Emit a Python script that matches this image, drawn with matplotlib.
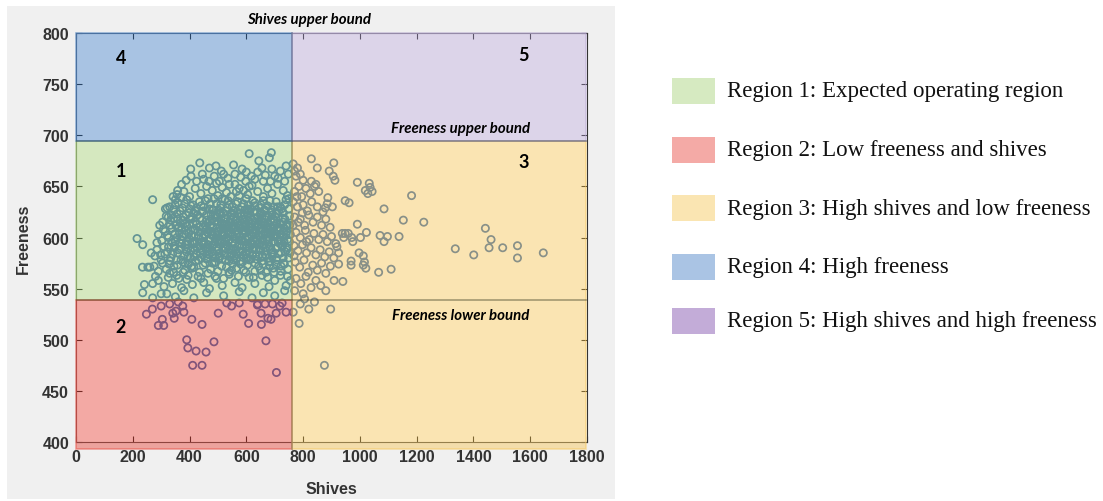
import matplotlib.pyplot as plt
from matplotlib.patches import Rectangle

# operating limits
shives_bound = 760
freeness_low = 539
freeness_high = 694

# dense cloud of operating points (shives, freeness)
core_points = [
    (470, 668), (520, 662), (555, 671), (580, 659), (600, 664), (630, 657), (655, 668), (700, 660),
    (720, 665), (740, 670), (505, 655), (540, 652), (660, 655), (450, 657), (610, 650), (575, 648),
    (380, 645), (400, 640), (420, 648), (440, 643), (460, 650), (480, 646), (500, 641), (515, 649),
    (530, 644), (545, 640), (560, 652), (575, 641), (590, 646), (605, 642), (620, 651), (640, 645),
    (660, 640), (675, 648), (690, 643), (710, 652), (730, 646), (745, 641), (350, 637), (495, 653),
    (565, 645), (685, 655),
    (330, 630), (345, 627), (360, 634), (375, 629), (390, 637), (405, 631), (420, 626), (435, 635),
    (450, 630), (465, 638), (480, 627), (495, 633), (510, 629), (525, 637), (540, 632), (555, 626),
    (570, 635), (585, 630), (600, 638), (615, 628), (630, 634), (645, 629), (660, 636), (675, 631),
    (690, 627), (705, 635), (720, 630), (740, 637), (750, 628), (445, 625), (515, 638), (595, 627),
    (665, 626), (728, 625),
    (305, 615), (318, 621), (332, 612), (344, 619), (356, 623), (368, 614), (379, 620), (391, 611),
    (402, 618), (414, 624), (425, 613), (437, 619), (448, 610), (459, 622), (470, 616), (482, 611),
    (493, 620), (504, 624), (515, 614), (527, 618), (538, 611), (549, 622), (560, 616), (571, 612),
    (583, 621), (594, 617), (605, 624), (617, 613), (628, 619), (639, 611), (650, 622), (662, 615),
    (673, 620), (684, 612), (696, 618), (707, 623), (718, 614), (729, 619), (741, 611), (752, 621),
    (362, 610), (420, 616), (476, 623), (532, 622), (588, 611), (644, 616), (700, 611), (498, 613),
    (556, 609), (612, 620),
    (290, 603), (302, 597), (314, 606), (326, 600), (338, 595), (349, 604), (360, 609), (371, 598),
    (382, 603), (393, 596), (404, 607), (415, 601), (426, 596), (437, 605), (448, 600), (459, 608),
    (470, 597), (481, 603), (492, 599), (503, 606), (514, 602), (525, 596), (536, 604), (547, 609),
    (558, 599), (569, 604), (580, 597), (591, 607), (602, 601), (613, 595), (624, 605), (635, 600),
    (646, 608), (657, 597), (668, 603), (679, 598), (690, 606), (701, 601), (712, 596), (723, 604),
    (734, 609), (745, 598), (755, 603), (410, 595), (465, 604), (520, 609), (575, 601), (630, 596),
    (685, 609), (740, 603), (355, 600), (540, 598), (610, 610), (660, 602),
    (285, 588), (298, 583), (310, 591), (322, 586), (334, 580), (346, 592), (358, 585), (369, 589),
    (381, 582), (392, 594), (404, 587), (415, 581), (427, 590), (438, 585), (450, 593), (461, 580),
    (473, 588), (484, 584), (496, 591), (507, 582), (519, 587), (530, 593), (542, 581), (553, 589),
    (565, 584), (576, 592), (588, 586), (599, 580), (611, 590), (622, 583), (634, 588), (645, 594),
    (657, 582), (668, 587), (680, 591), (691, 581), (703, 589), (714, 584), (726, 592), (737, 586),
    (749, 580), (440, 580), (500, 594), (560, 594), (620, 593), (680, 580), (372, 594), (590, 583),
    (275, 572), (290, 567), (305, 575), (318, 569), (331, 577), (344, 566), (357, 573), (370, 578),
    (383, 568), (396, 574), (409, 570), (422, 577), (435, 566), (448, 573), (461, 579), (474, 569),
    (487, 575), (500, 567), (513, 572), (526, 578), (539, 566), (552, 574), (565, 570), (578, 577),
    (591, 568), (604, 573), (617, 579), (630, 567), (643, 572), (656, 577), (669, 566), (682, 573),
    (695, 570), (708, 578), (721, 567), (734, 574), (747, 569), (260, 571),
    (290, 558), (310, 552), (325, 561), (340, 555), (355, 563), (372, 551), (390, 559), (410, 554),
    (430, 562), (450, 556), (470, 550), (495, 560), (515, 553), (540, 564), (560, 556), (585, 551),
    (610, 561), (630, 555), (655, 563), (680, 552), (700, 558), (720, 563), (740, 553), (755, 558),
    (320, 545), (350, 542), (380, 548), (415, 541), (460, 546), (520, 543), (575, 547), (620, 541),
    (660, 546), (700, 543), (735, 548),
    (455, 612), (467, 607), (478, 618), (489, 605), (501, 615), (512, 608), (523, 619), (534, 606),
    (545, 614), (556, 620), (567, 607), (578, 616), (589, 604), (600, 613), (611, 607), (622, 617),
    (633, 604), (644, 612), (655, 619), (666, 606), (677, 614), (688, 603), (699, 616), (710, 607),
    (721, 613), (732, 606),
    (452, 595), (463, 590), (474, 599), (485, 593), (496, 587), (507, 597), (518, 591), (529, 600),
    (540, 589), (551, 595), (562, 588), (573, 598), (584, 592), (595, 599), (606, 587), (617, 594),
    (628, 590), (639, 598), (650, 588), (661, 593), (672, 599), (683, 589), (694, 596), (705, 590),
    (716, 598), (727, 591),
    (400, 613), (388, 607), (376, 617), (364, 604), (352, 612), (412, 590), (398, 599), (386, 593),
    (374, 601), (362, 588), (350, 596), (338, 609), (326, 591),
    (470, 628), (490, 622), (510, 632), (530, 626), (550, 630), (570, 623), (590, 633), (610, 626),
    (630, 631), (650, 624), (670, 629), (690, 622), (710, 630), (730, 624),
    (480, 575), (505, 580), (530, 571), (555, 578), (580, 574), (605, 580), (630, 575), (655, 581),
    (680, 576), (705, 574), (730, 580),
    (342, 640), (358, 646), (372, 652), (388, 656), (405, 660), (425, 655), (445, 662), (468, 655),
    (487, 660), (512, 665), (535, 658), (560, 662), (585, 667), (598, 655), (618, 660), (640, 664),
    (667, 661), (690, 667), (712, 658), (735, 655), (748, 662),
    (336, 622), (349, 632), (366, 626), (383, 633), (398, 624), (412, 632), (428, 622), (441, 631),
    (456, 636), (473, 633), (486, 638), (502, 627), (519, 624), (536, 636), (548, 624), (563, 633),
    (578, 627), (593, 622), (607, 632), (622, 636), (637, 625), (652, 632), (668, 621), (683, 636),
    (697, 630), (714, 626), (735, 632), (750, 638),
    (308, 608), (322, 602), (333, 617), (347, 590), (359, 618), (373, 609), (385, 614), (397, 604),
    (408, 620), (420, 608), (432, 601), (444, 617), (453, 603), (464, 614), (476, 606), (488, 616),
    (499, 603), (510, 618), (521, 604), (532, 613), (543, 603), (554, 612), (565, 617), (576, 609),
    (587, 618), (598, 606), (609, 616), (620, 602), (631, 614), (642, 603), (653, 609), (664, 618),
    (675, 605), (686, 617), (697, 606), (708, 614), (719, 603), (730, 615), (742, 606), (753, 612),
    (300, 578), (313, 584), (328, 574), (340, 584), (353, 578), (365, 595), (377, 576), (389, 586),
    (401, 580), (413, 596), (425, 584), (436, 592), (447, 583), (458, 590), (469, 583), (480, 592),
    (491, 580), (502, 589), (513, 595), (524, 583), (535, 592), (546, 585), (557, 582), (568, 591),
    (579, 586), (590, 596), (601, 592), (612, 585), (623, 597), (634, 582), (645, 588), (656, 592),
    (667, 583), (678, 594), (689, 585), (700, 596), (711, 591), (722, 585), (733, 596), (744, 590),
    (754, 585),
    (330, 565), (345, 572), (362, 560), (378, 566), (395, 563), (415, 571), (440, 560), (465, 565),
    (490, 562), (520, 560), (548, 568), (572, 562), (598, 566), (625, 561), (650, 568), (675, 561),
    (698, 566), (722, 572), (745, 562),
    (285, 595), (278, 582), (295, 612), (315, 628), (265, 585), (280, 562), (300, 545), (270, 555),
    (383, 575), (395, 582), (407, 572), (419, 588), (431, 578), (443, 596), (455, 575), (467, 584),
    (479, 602), (491, 576), (503, 598), (515, 579), (527, 611), (539, 577), (551, 603), (563, 579),
    (575, 612), (587, 576), (599, 609), (611, 578), (623, 608), (635, 579), (647, 602), (659, 574),
    (671, 611), (683, 577), (695, 601), (707, 580), (719, 609), (731, 575), (743, 613),
    (388, 622), (400, 628), (412, 614), (424, 629), (436, 610), (448, 626), (460, 617), (472, 611),
    (484, 627), (496, 609), (508, 623), (520, 613), (532, 629), (544, 618), (556, 626), (568, 614),
    (580, 624), (592, 613), (604, 628), (616, 610), (628, 625), (640, 620), (652, 613), (664, 627),
    (676, 609), (688, 625), (700, 621), (712, 610), (724, 628), (736, 618),
    (394, 590), (406, 602), (418, 594), (430, 606), (442, 588), (454, 603), (466, 593), (478, 586),
    (490, 596), (502, 584), (514, 605), (526, 589), (538, 597), (550, 583), (562, 606), (574, 587),
    (586, 597), (598, 584), (610, 599), (622, 589), (634, 607), (646, 583), (658, 598), (670, 590),
    (682, 603), (694, 585), (706, 603), (718, 594), (730, 601), (742, 588), (752, 596),
]

# points just past the shives limit
edge_points = [
    (765, 672), (770, 665), (775, 660), (780, 668), (790, 662), (800, 656), (785, 650), (770, 645),
    (795, 640), (810, 648), (825, 643), (840, 650), (855, 645), (765, 635), (780, 630), (800, 632),
    (815, 626), (830, 635), (850, 630), (870, 625), (885, 633), (770, 620), (790, 618), (805, 612),
    (820, 622), (835, 615), (850, 620), (865, 612), (880, 618), (895, 610), (775, 605), (790, 600),
    (808, 607), (822, 598), (838, 604), (855, 598), (870, 603), (885, 596), (900, 601), (915, 594),
    (768, 592), (782, 587), (798, 593), (812, 585), (828, 590), (845, 583), (860, 588), (876, 581),
    (892, 586), (908, 580), (772, 576), (788, 571), (803, 578), (818, 566), (834, 573), (850, 568),
    (865, 575), (880, 565), (896, 572), (925, 574), (775, 560), (792, 555), (810, 562), (828, 551),
    (845, 558), (862, 553), (880, 548), (770, 548), (800, 545), (790, 535), (820, 530), (840, 537),
    (765, 527), (805, 540), (765, 612), (778, 640), (768, 582), (783, 615), (797, 624), (812, 596),
]

# scattered outliers
outlier_points = [
    (1646, 585), (1555, 592), (1555, 580), (1503, 590), (1455, 590), (1462, 598), (1442, 609),
    (1401, 583), (1336, 589), (1225, 615), (1182, 641), (1153, 617), (1138, 601), (1110, 569),
    (1066, 566), (1085, 628), (1033, 653), (991, 654), (1019, 646), (1028, 643), (1036, 649),
    (1043, 645), (948, 636), (962, 634), (991, 613), (1023, 605), (1002, 600), (1071, 602),
    (1097, 601), (1085, 596), (971, 600), (975, 596), (948, 604), (959, 604), (997, 585),
    (1012, 582), (1016, 576), (1012, 573), (1021, 570), (969, 577), (969, 573), (940, 557),
    (909, 558), (897, 530), (786, 516), (875, 475), (829, 677), (908, 673), (892, 665), (906, 660),
    (912, 656), (850, 668), (845, 652), (829, 655), (887, 639), (878, 629), (903, 630), (938, 604),
    (943, 600), (919, 591), (925, 585),
    (270, 637), (215, 599), (235, 593), (234, 571), (253, 571), (241, 554), (235, 546), (270, 541),
    (610, 682), (644, 675), (681, 678), (688, 683), (436, 673), (404, 667), (493, 670), (321, 629),
    (325, 620), (356, 642), (370, 639),
    (248, 525), (269, 530), (290, 514), (309, 514), (304, 520), (341, 526), (346, 521), (352, 528),
    (376, 533), (380, 527), (408, 520), (444, 515), (501, 526), (390, 500), (394, 492), (423, 489),
    (458, 488), (486, 498), (411, 475), (444, 475), (589, 525), (608, 516), (639, 534), (652, 526),
    (653, 515), (669, 499), (706, 468), (666, 535), (676, 521), (687, 520), (705, 526), (718, 533),
    (740, 527), (726, 536), (692, 535), (531, 536), (548, 533), (575, 536), (640, 535), (300, 533),
    (330, 535), (360, 537),
]

region_names = [
    "Region 1: Expected operating region",
    "Region 2: Low freeness and shives",
    "Region 3: High shives and low freeness",
    "Region 4: High freeness",
    "Region 5: High shives and high freeness",
]
legend_colors = ["#d6eac1", "#f4aaa6", "#fae5b2", "#aac4e4", "#c3acd8"]
# fill colours, drawn at alpha 0.5 over the markers
fill_colors = ["#add381", "#e9554b", "#f7cb67", "#5389c9", "#bbabd5"]

x_ticks = [0, 200, 400, 600, 800, 1000, 1200, 1400, 1600, 1800]
y_ticks = [400, 450, 500, 550, 600, 650, 700, 750, 800]

all_points = core_points + edge_points + outlier_points
shives = [p[0] for p in all_points]
freeness = [p[1] for p in all_points]

plt.rcParams['font.family'] = ['Liberation Sans', 'DejaVu Sans']

fig = plt.figure(figsize=(11.03, 5.02), dpi=100)
fig.patches.append(Rectangle((0.0063, 0.004), 0.5512, 0.982, transform=fig.transFigure,
                             facecolor="#f0f0f0", edgecolor="none", zorder=-5))

ax = fig.add_axes([0.0689, 0.1175, 0.4633, 0.8147])
ax.set_zorder(1)
ax.set_facecolor("white")

ax.scatter(shives, freeness, s=27, facecolors="none", edgecolors="#1955aa",
           linewidths=1.25, zorder=2)

# region rectangles: (x0, x1, y0, y1)
x_lo, x_hi, y_lo, y_hi = 0, 1795, 393, 800
boxes = [
    (x_lo, shives_bound, freeness_low, freeness_high),
    (x_lo, shives_bound, y_lo, freeness_low),
    (shives_bound, x_hi, y_lo, freeness_high),
    (x_lo, shives_bound, freeness_high, y_hi),
    (shives_bound, x_hi, freeness_high, y_hi),
]
for (x0, x1, y0, y1), c in zip(boxes, fill_colors):
    ax.add_patch(Rectangle((x0, y0), x1 - x0, y1 - y0, facecolor=c, edgecolor=c,
                           linewidth=1.3, alpha=0.5, zorder=3, clip_on=False))

# limit lines
ax.axhline(freeness_high, xmax=x_hi / 1800, color="#2a3a4a", alpha=0.45, lw=1.2, zorder=4)
ax.axhline(freeness_low, xmax=x_hi / 1800, color="#3a3a20", alpha=0.45, lw=1.2, zorder=4)
ax.plot([shives_bound, shives_bound], [y_lo, y_hi], color="#2a3a4a", alpha=0.35, lw=1.2,
        zorder=4, clip_on=False)

ax.set_xlim(0, 1800)
ax.set_ylim(400, 800)
ax.set_xticks(x_ticks)
ax.set_yticks(y_ticks)
ax.tick_params(direction="in", length=4, width=0.8, top=True, right=True,
               labelsize=11.5, labelcolor="#333333", pad=5)
for lab in ax.get_xticklabels() + ax.get_yticklabels():
    lab.set_fontweight("bold")
for sp in ax.spines.values():
    sp.set_linewidth(0.8)
    sp.set_color("#333333")

ax.set_xlabel("Shives", fontsize=11.5, fontweight="bold", color="#333333", labelpad=12)
ax.set_ylabel("Freeness", fontsize=11.5, fontweight="bold", color="#333333", labelpad=8)

note = dict(family=["Lato", "DejaVu Sans"], fontweight="bold", fontstyle="italic",
            fontsize=10.8, color="black", zorder=5)
fig.text(309 / 1103, 1 - 20 / 502, "Shives upper bound", ha="center", va="center", **note)
ax.text(1356, 700, "Freeness upper bound", ha="center", va="bottom", **note)
ax.text(1356, 524, "Freeness lower bound", ha="center", va="center", **note)

num = dict(family=["Lato", "DejaVu Sans"], fontweight="bold", fontsize=13,
           color="black", ha="center", va="center", zorder=5)
ax.text(158, 776, "4", **num)
ax.text(1576, 779, "5", **num)
ax.text(158, 666, "1", **num)
ax.text(1576, 674, "3", **num)
ax.text(158, 513, "2", **num)

# legend on the right
rows_y = [92, 151, 209, 268, 322]
for yy, c, name in zip(rows_y, legend_colors, region_names):
    fig.patches.append(Rectangle((672 / 1103, 1 - (yy + 13) / 502), 43 / 1103, 26 / 502,
                                 transform=fig.transFigure, facecolor=c, edgecolor="none"))
    fig.text(727 / 1103, 1 - yy / 502, name, ha="left", va="center",
             family=["Liberation Serif", "DejaVu Serif"], fontsize=16.5, color="#111111")

fig.savefig("out.png", dpi=100)
